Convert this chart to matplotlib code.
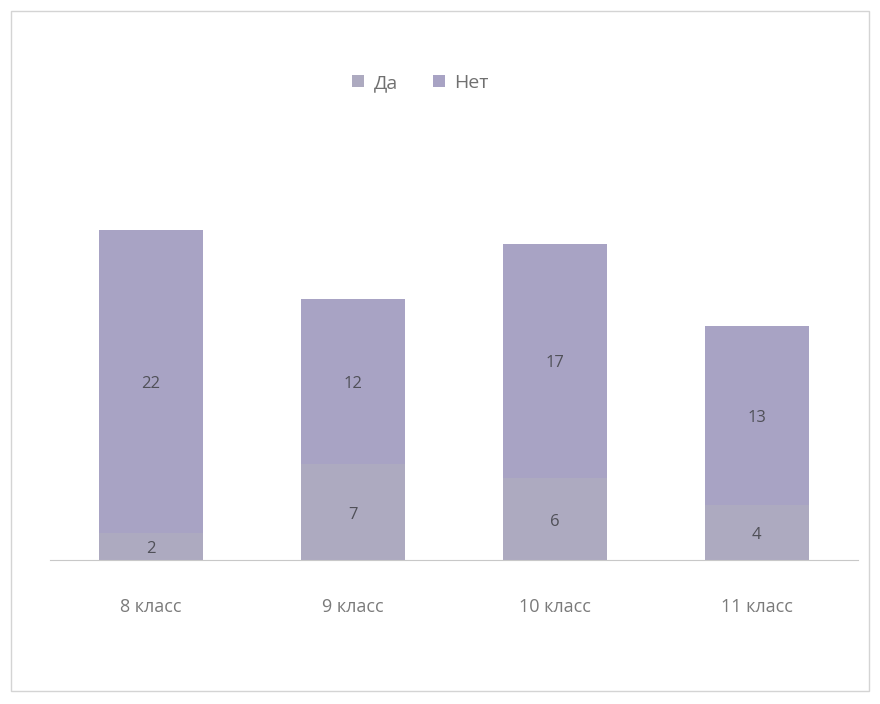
import matplotlib
matplotlib.use("Agg")
import matplotlib.pyplot as plt
from matplotlib.patches import Rectangle

# ответы по классам
klassy = ["8 класс", "9 класс", "10 класс", "11 класс"]
da = [2, 7, 6, 4]
net = [22, 12, 17, 13]

plt.rcParams['font.family'] = ['Open Sans', 'DejaVu Sans']

fig = plt.figure(figsize=(8.8, 7.04), dpi=100)
fig.patch.set_facecolor("white")
# рамка вокруг диаграммы
fig.patches.append(Rectangle((0.012, 0.018), 0.975, 0.967, transform=fig.transFigure,
                             fill=False, ec="#d4d4d4", lw=1.0))

ax = fig.add_axes([0.0568, 0.2045, 0.918, 0.586])
x = range(len(klassy))
w = 0.515
b1 = ax.bar(x, da, w, color="#adaac0", label="Да")
b2 = ax.bar(x, net, w, bottom=da, color="#a8a3c4", label="Нет")

for bars, vals in ((b1, da), (b2, net)):
    for r, v in zip(bars, vals):
        ax.text(r.get_x() + r.get_width() / 2, r.get_y() + r.get_height() / 2 - 0.2, str(v),
                ha="center", va="center", fontsize=12, color="#505058")

ax.set_xlim(-0.5, 3.5)
ax.set_ylim(0, 30)
ax.set_xticks(list(x))
ax.set_xticklabels(klassy, fontsize=13, color="#7a7a7a")
ax.tick_params(axis="x", length=0, pad=27)
ax.set_yticks([])
for s in ("top", "right", "left"):
    ax.spines[s].set_visible(False)
ax.spines["bottom"].set_color("#c8c8c8")

fig.legend(handles=[b1, b2], loc="center", bbox_to_anchor=(0.478, 0.882), ncol=2,
           frameon=False, fontsize=14, labelcolor="#707070",
           handlelength=0.6, handleheight=0.6, handletextpad=0.5, columnspacing=1.8)

fig.savefig("out.png", dpi=100)
